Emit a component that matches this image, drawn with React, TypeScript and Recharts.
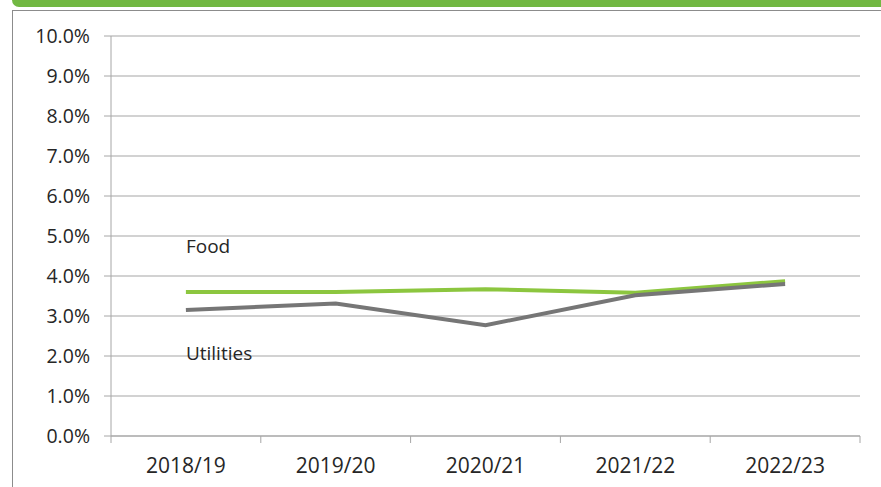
import { ComposedChart, Line, XAxis, YAxis, CartesianGrid, LabelList } from 'recharts'

const years = ['2018/19', '2019/20', '2020/21', '2021/22', '2022/23']
const food = [3.6, 3.6, 3.67, 3.58, 3.87]
const utilities = [3.15, 3.31, 2.77, 3.52, 3.8]
const yTicks = [0, 1, 2, 3, 4, 5, 6, 7, 8, 9, 10]

const data = years.map((year, i) => ({ year, food: food[i], utilities: utilities[i] }))

const FONT = '"Open Sans", sans-serif'
const GRID = '#a6a6a6'
const TEXT = '#262626'

function XTick(props: any) {
  const { x, y, payload, index } = props
  // boundary ticks sit halfway between categories, like Excel
  const half = 749 / years.length / 2
  return (
    <g>
      <line x1={x - half} x2={x - half} y1={y - 8} y2={y - 1} stroke={GRID} />
      {index === years.length - 1 && (
        <line x1={x + half} x2={x + half} y1={y - 8} y2={y - 1} stroke={GRID} />
      )}
      <text x={x} y={y + 29} textAnchor="middle" fill={TEXT} fontSize={21} fontFamily={FONT}>
        {payload.value}
      </text>
    </g>
  )
}

function seriesLabel(name: string, dy: number) {
  return (props: any) => {
    if (props.index !== 0) return null
    return (
      <text x={props.x} y={props.y + dy} fill={TEXT} fontSize={19} fontFamily={FONT}>
        {name}
      </text>
    )
  }
}

export default function App() {
  return (
    <div style={{ position: 'absolute', left: 0, top: 0, width: 881, height: 487, background: '#fff', overflow: 'hidden' }}>
      <div
        style={{
          position: 'absolute',
          left: 12,
          top: 0,
          width: 880,
          height: 7,
          background: '#72b843',
          borderBottomLeftRadius: 8,
        }}
      />
      <div
        style={{
          position: 'absolute',
          left: 12,
          top: 10,
          width: 880,
          height: 490,
          borderLeft: '1.5px solid #8c8c8c',
          borderTop: '1.5px solid #8c8c8c',
        }}
      />
      <div style={{ position: 'absolute', left: 0, top: 0 }}>
        <ComposedChart
          width={881}
          height={487}
          data={data}
          margin={{ top: 36, right: 21, left: 0, bottom: 0 }}
        >
          <CartesianGrid horizontal vertical={false} stroke={GRID} strokeWidth={1.2} />
          <XAxis
            dataKey="year"
            scale="band"
            height={51}
            axisLine={{ stroke: GRID }}
            tickLine={false}
            interval={0}
            tick={<XTick />}
          />
          <YAxis
            width={111}
            domain={[0, 10]}
            ticks={yTicks}
            interval={0}
            tickFormatter={(v: number) => `${v.toFixed(1)}%`}
            axisLine={{ stroke: GRID }}
            tickLine={{ stroke: GRID }}
            tickSize={7}
            tickMargin={14}
            tick={{ fill: TEXT, fontSize: 19.5, fontFamily: FONT }}
          />
          <Line
            dataKey="food"
            stroke="#8cc63f"
            strokeWidth={4}
            dot={false}
            isAnimationActive={false}
          >
            <LabelList dataKey="food" content={seriesLabel('Food', -39)} />
          </Line>
          <Line
            dataKey="utilities"
            stroke="#767676"
            strokeWidth={4}
            dot={false}
            isAnimationActive={false}
          >
            <LabelList dataKey="utilities" content={seriesLabel('Utilities', 50)} />
          </Line>
        </ComposedChart>
      </div>
    </div>
  )
}
